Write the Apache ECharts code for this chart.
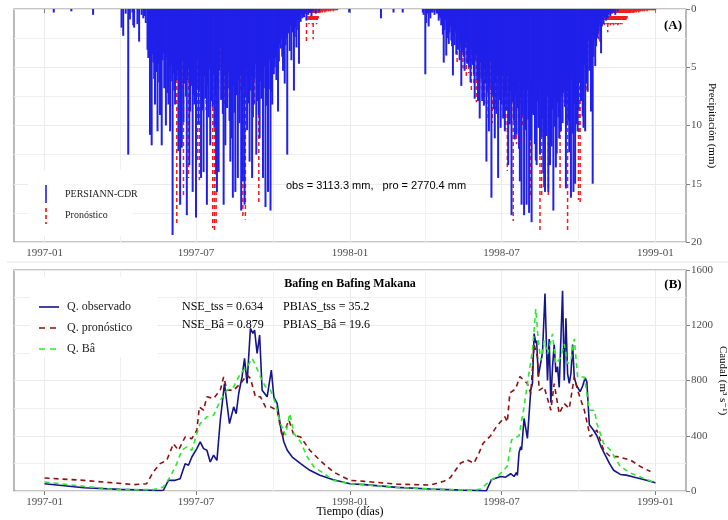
<!DOCTYPE html>
<html>
<head>
<meta charset="utf-8">
<script src="https://cdn.jsdelivr.net/npm/echarts@6/dist/echarts.min.js"></script>
<style>
  html, body { margin: 0; padding: 0; background: #fff; }
  #chart { width: 728px; height: 520px; }
</style>
</head>
<body>
<div id="chart"></div>
<script>
// ---- precipitation (mm/day), daily values from a start date ----
const obsDry = [['1997-01-12', 0.3], ['1997-02-02', 0.2], ['1997-02-28', 0.5], ['1997-12-31', 0.3],
  ['1998-02-07', 0.8], ['1998-02-22', 0.3], ['1998-03-05', 0.3]];

const obs97Start = '1997-04-01';
const obs97 = [
  0, 0, 1.6, 0, 2.3, 0, 0, 0.4, 0, 0,
  12.5, 0, 0.9, 0, 0, 0.3, 1.4, 1.6, 0, 0,
  0, 1.3, 0, 2.8, 0, 0, 0.5, 0, 0.8, 0,
  0.6, 1.2, 0, 3.5, 4.2, 2.8, 10.8, 5.1, 11.7, 3.9,
  4.6, 6.0, 8.2, 3.1, 5.4, 10.5, 4.7, 6.3, 9.1, 5.2,
  11.7, 4.4, 3.8, 6.8, 5.9, 10.0, 4.1, 7.2, 8.2, 5.0,
  10.5, 6.2, 4.8, 19.4, 5.5, 7.0, 8.2, 4.6, 6.1, 5.3,
  12.2, 6.9, 16.8, 5.2, 11.9, 4.5, 9.7, 6.4, 5.8, 7.5,
  17.7, 6.1, 5.0, 13.4, 8.8, 4.9, 6.6, 15.7, 7.3, 8.2,
  5.6, 17.9, 6.8, 4.2, 9.9, 7.1, 5.4, 14.5, 6.0, 8.7,
  14.0, 5.8, 7.7, 4.9, 16.8, 6.5, 9.3, 5.1, 11.7, 7.9,
  6.3, 8.4, 5.6, 10.2, 7.4, 14.2, 15.7, 6.8, 14.0, 5.3,
  3.1, 7.8, 6.2, 9.0, 16.8, 5.7, 11.7, 4.8, 8.5, 6.8,
  5.4, 9.6, 13.1, 11.1, 7.2, 16.2, 6.6, 8.9, 15.7, 5.9,
  7.4, 14.5, 6.1, 9.8, 5.5, 17.3, 8.0, 14.8, 6.7, 16.8,
  7.6, 5.2, 10.4, 6.3, 8.1, 13.1, 7.0, 5.8, 14.5, 9.3,
  8.2, 6.0, 4.7, 12.5, 7.9, 5.4, 9.1, 11.1, 6.2, 7.7,
  5.1, 14.5, 6.8, 4.9, 17.0, 8.3, 5.6, 15.7, 6.9, 4.4,
  17.3, 7.1, 8.2, 3.9, 5.6, 5.0, 4.2, 6.1, 3.3, 8.8,
  4.5, 3.0, 3.4, 2.6, 4.1, 5.3, 2.2, 6.4, 3.1, 2.5,
  12.5, 1.8, 2.1, 3.6, 1.4, 4.4, 2.0, 1.2, 7.0, 2.4,
  1.6, 3.3, 0.9, 1.8, 4.7, 0.6, 1.1, 0.5, 0.8, 0.3,
  0.7, 0, 0.4, 1.0, 0, 0.5, 0, 0.3, 0, 0.6,
  0, 0.2, 0, 0, 0.4, 0, 0, 0, 0.2, 0
];

const obs98Start = '1998-03-25';
const obs98 = [
  0, 0, 0, 0, 0.3, 0.5, 0, 5.6, 1.2, 0.4,
  0, 1.5, 0, 0.8, 0, 0.3, 0, 0, 0.5, 0,
  0, 0.4, 0, 1.0, 0.6, 0.8, 1.4, 0.9, 2.2, 4.6,
  1.8, 0.9, 4.0, 2.5, 1.6, 3.0, 2.0, 1.3, 2.7, 3.2,
  5.7, 2.4, 3.1, 1.9, 3.9, 2.8, 3.5, 2.2, 4.4, 3.0,
  6.6, 3.7, 2.5, 4.1, 5.3, 3.3, 2.9, 4.7, 3.6, 5.0,
  4.2, 6.3, 3.5, 4.8, 3.9, 5.6, 7.7, 4.4, 3.8, 6.1,
  7.9, 5.2, 9.4, 4.6, 6.0, 7.9, 5.5, 8.3, 4.9, 6.4,
  13.1, 5.8, 7.2, 10.5, 6.7, 4.5, 16.2, 7.4, 5.9, 8.6,
  11.1, 6.3, 9.0, 5.4, 14.5, 7.8, 6.1, 10.2, 8.2, 5.7,
  9.4, 6.9, 10.5, 7.5, 8.7, 5.8, 13.4, 6.6, 9.9, 7.1,
  17.7, 8.0, 6.4, 9.6, 11.2, 7.3, 10.8, 8.5, 6.2, 12.0,
  14.8, 7.6, 16.8, 9.1, 6.8, 17.7, 8.3, 10.4, 16.8, 7.0,
  9.5, 17.5, 6.2, 11.3, 18.3, 8.9, 9.1, 7.4, 11.6, 13.0,
  13.4, 7.9, 10.2, 8.8, 12.5, 6.5, 11.0, 9.4, 14.1, 15.3,
  15.7, 8.2, 10.9, 7.5, 15.7, 9.8, 13.4, 6.9, 11.8, 8.6,
  17.3, 7.7, 10.1, 13.6, 12.4, 8.0, 9.3, 11.1, 6.8, 10.5,
  7.5, 9.8, 7.2, 6.6, 8.4, 15.4, 10.0, 7.1, 9.6, 12.3,
  8.9, 16.2, 6.0, 10.7, 15.7, 8.2, 15.0, 7.4, 9.9, 10.5,
  8.6, 6.3, 3.4, 7.9, 5.5, 9.2, 10.2, 4.8, 10.5, 6.4,
  3.9, 7.1, 2.7, 5.3, 4.6, 8.8, 3.5, 15.0, 4.1, 2.6,
  4.9, 3.2, 1.8, 2.5, 1.9, 1.2, 2.8, 3.8, 1.5, 0.9,
  1.3, 0.7, 0.6, 1.0, 0.4, 0.8, 0.5, 0.3, 0.6, 0.2,
  0.4, 0, 0.3, 0, 0.5, 0, 0, 0.2, 0, 0
];

const fc97Start = '1997-06-01';
const fc97 = [
  0.5, 1.2, 0.8, 2.0, 1.5, 0.9, 3.2, 18.4, 2.6, 4.1,
  1.8, 5.5, 3.0, 2.2, 6.8, 16.2, 3.6, 2.4, 7.5, 4.0,
  2.9, 14.5, 5.2, 8.1, 3.3, 6.0, 2.7, 4.8, 7.9, 3.1,
  5.6, 2.4, 13.0, 8.4, 14.7, 3.8, 6.2, 2.9, 5.1, 7.3,
  3.5, 4.4, 8.7, 2.6, 6.5, 3.9, 5.3, 2.1, 7.8, 4.6,
  18.8, 3.2, 19.0, 5.7, 18.5, 4.1, 2.8, 6.9, 3.4, 5.0,
  2.5, 7.1, 4.3, 3.0, 8.4, 5.8, 2.7, 6.3, 3.6, 4.9,
  7.7, 2.3, 5.4, 3.8, 6.6, 4.2, 8.9, 3.1, 5.7, 2.6,
  4.4, 6.0, 3.3, 7.2, 5.1, 2.8, 17.9, 6.4, 15.6, 18.1,
  3.7, 5.9, 2.4, 7.0, 4.5, 3.2, 6.1, 2.9, 5.4, 3.6,
  8.1, 2.7, 4.9, 3.5, 6.6, 16.7, 3.0, 5.2, 2.4, 4.3,
  7.4, 3.1, 2.2, 5.0, 3.8, 2.6, 6.0, 1.9, 4.2, 2.8,
  3.5, 1.7, 5.3, 2.4, 3.1, 1.5, 4.0, 2.2, 1.8, 3.0,
  1.4, 2.6, 1.2, 3.4, 2.0, 1.1, 2.7, 1.6, 0.9, 2.3,
  1.3, 0.8, 1.9, 1.0, 0.6, 1.5, 0.9, 0.5, 1.2, 0.7,
  0.4, 1.0, 0.6, 0.3, 0.8, 0.5, 0.4, 0.7, 0.3, 0.5,
  0.4, 0.6, 2.8, 0.3, 1.1, 1.3, 0.9, 1.2, 1.0, 1.3,
  2.6, 1.1, 1.2, 0.9, 1.3, 1.0, 0.8, 0.6, 0.4, 0.3,
  0.2, 0.3, 0.2, 0.2, 0.3, 0.2, 0.2, 0.1, 0.2, 0.2,
  0.1, 0.2, 0.1, 0.1, 0.2, 0.1, 0.1, 0.1, 0.1, 0.1
];

const fc98Start = '1998-04-01';
const fc98 = [
  0.2, 0.1, 0.3, 0.2, 0.1, 0.3, 0.2, 0.2, 0.1, 0.3,
  0.2, 0.3, 0.1, 0.2, 0.3, 0.2, 0.4, 0.2, 0.3, 0.1,
  0.3, 0.5, 0.2, 0.4, 0.3, 1.1, 0.4, 0.6, 2.2, 0.8,
  1.5, 0.7, 2.8, 1.2, 0.9, 3.0, 1.4, 2.1, 4.8, 1.6,
  2.5, 3.6, 1.3, 4.3, 2.0, 5.1, 1.8, 3.3, 2.6, 6.0,
  2.2, 3.9, 5.5, 1.9, 4.6, 7.0, 2.8, 3.5, 6.4, 2.3,
  4.1, 8.0, 3.0, 5.2, 2.6, 6.8, 4.4, 3.1, 7.6, 5.0,
  2.9, 8.4, 4.0, 6.2, 3.4, 9.6, 5.4, 2.7, 7.3, 4.7,
  9.8, 3.6, 6.1, 5.0, 8.6, 3.2, 7.0, 10.1, 4.2, 5.7,
  9.3, 3.8, 6.6, 8.0, 4.5, 7.2, 10.3, 5.3, 13.9, 6.1,
  4.0, 8.5, 5.6, 7.4, 3.9, 18.2, 6.8, 9.0, 4.9, 11.6,
  7.1, 5.5, 9.4, 3.8, 8.2, 6.0, 10.0, 4.4, 7.7, 5.2,
  9.1, 6.3, 3.9, 8.0, 4.7, 7.4, 16.1, 5.0, 3.6, 8.8,
  6.2, 4.3, 9.5, 5.1, 7.0, 3.4, 6.8, 19.1, 5.5, 16.1,
  4.0, 8.3, 6.0, 3.5, 7.6, 5.0, 4.2, 16.0, 6.5, 3.8,
  9.0, 5.4, 7.3, 3.6, 6.6, 4.8, 8.1, 3.2, 5.9, 4.1,
  7.2, 15.6, 5.3, 3.7, 6.4, 4.5, 8.0, 3.1, 5.6, 4.0,
  19.1, 5.0, 3.4, 7.1, 4.6, 6.0, 3.3, 5.4, 8.2, 4.2,
  6.5, 3.0, 5.1, 16.4, 10.9, 16.6, 4.0, 6.2, 3.1, 5.5,
  2.8, 4.4, 7.0, 2.5, 3.7, 2.1, 5.2, 1.9, 3.0, 2.4,
  1.6, 2.9, 1.4, 2.2, 1.1, 1.8, 1.3, 2.6, 0.9, 1.5,
  1.2, 1.0, 1.3, 1.2, 1.4, 1.1, 1.3, 1.2, 2.0, 1.3,
  1.2, 1.4, 1.3, 1.2, 1.3, 1.4, 1.2, 1.3, 1.3, 1.2,
  1.4, 1.3, 1.2, 1.3, 1.2, 1.3, 1.1, 1.2, 1.0, 1.1,
  0.9, 0.8, 0.6, 0.5, 0.4, 0.4, 0.3, 0.3, 0.4, 0.3,
  0.3, 0.2, 0.3, 0.2, 0.2, 0.3, 0.2, 0.2, 0.1, 0.2,
  0.2, 0.1, 0.2, 0.1, 0.1, 0.2, 0.1, 0.1, 0.1, 0.1,
  0.1, 0.1, 0.1, 0.1, 0.1, 0.1
];

// ---- discharge (m3/s) ----
const qObs = [
  ['1997-01-01', 53], ['1997-02-17', 24], ['1997-04-01', 12], ['1997-05-19', 4], ['1997-05-23', 5],
  ['1997-05-29', 77], ['1997-05-31', 89], ['1997-06-06', 77], ['1997-06-12', 89], ['1997-06-18', 198],
  ['1997-06-22', 186], ['1997-06-26', 246], ['1997-07-02', 307], ['1997-07-06', 355], ['1997-07-10', 307],
  ['1997-07-14', 295], ['1997-07-18', 210], ['1997-07-22', 259], ['1997-07-26', 222], ['1997-07-30', 512],
  ['1997-08-04', 778], ['1997-08-07', 633], ['1997-08-10', 488], ['1997-08-15', 609], ['1997-08-18', 560],
  ['1997-08-21', 706], ['1997-08-25', 826], ['1997-08-28', 960], ['1997-08-31', 778], ['1997-09-04', 1177],
  ['1997-09-07', 1141], ['1997-09-09', 1165], ['1997-09-12', 996], ['1997-09-15', 1129], ['1997-09-18', 730],
  ['1997-09-24', 682], ['1997-09-29', 875], ['1997-10-02', 682], ['1997-10-06', 633], ['1997-10-10', 464],
  ['1997-10-14', 355], ['1997-10-18', 295], ['1997-10-24', 246], ['1997-11-03', 198], ['1997-11-14', 150],
  ['1997-11-26', 114], ['1997-12-12', 82], ['1998-01-01', 53], ['1998-01-18', 46], ['1998-02-26', 26],
  ['1998-04-07', 15], ['1998-05-16', 6], ['1998-06-13', 2], ['1998-06-19', 82], ['1998-06-21', 82],
  ['1998-06-30', 105], ['1998-07-06', 100], ['1998-07-12', 125], ['1998-07-16', 105], ['1998-07-19', 134],
  ['1998-07-20', 113], ['1998-07-22', 278], ['1998-07-24', 321], ['1998-07-25', 297], ['1998-07-28', 525],
  ['1998-08-01', 381], ['1998-08-05', 729], ['1998-08-07', 777], ['1998-08-09', 1140], ['1998-08-11', 1070],
  ['1998-08-12', 1090], ['1998-08-14', 830], ['1998-08-16', 840], ['1998-08-19', 1000], ['1998-08-22', 1430],
  ['1998-08-24', 1000], ['1998-08-25', 800], ['1998-08-27', 1100], ['1998-08-29', 640], ['1998-08-31', 900],
  ['1998-09-02', 1060], ['1998-09-04', 860], ['1998-09-06', 900], ['1998-09-08', 750], ['1998-09-12', 1450],
  ['1998-09-14', 800], ['1998-09-16', 1250], ['1998-09-18', 850], ['1998-09-20', 780], ['1998-09-22', 850],
  ['1998-09-24', 1060], ['1998-09-26', 820], ['1998-09-29', 760], ['1998-10-03', 720], ['1998-10-06', 760],
  ['1998-10-09', 820], ['1998-10-11', 790], ['1998-10-14', 480], ['1998-10-19', 440], ['1998-10-23', 400],
  ['1998-10-28', 320], ['1998-11-02', 260], ['1998-11-07', 200], ['1998-11-12', 150], ['1998-11-20', 120],
  ['1998-11-27', 115], ['1998-12-07', 100], ['1998-12-20', 80], ['1999-01-01', 60]
];

const qFc = [
  ['1997-01-01', 94], ['1997-02-17', 77], ['1997-04-18', 46], ['1997-05-03', 53], ['1997-05-11', 138],
  ['1997-05-19', 198], ['1997-05-27', 222], ['1997-06-04', 343], ['1997-06-10', 295], ['1997-06-18', 391],
  ['1997-06-26', 379], ['1997-07-02', 440], ['1997-07-05', 609], ['1997-07-10', 585], ['1997-07-14', 682],
  ['1997-07-22', 670], ['1997-07-30', 730], ['1997-08-03', 826], ['1997-08-07', 730], ['1997-08-15', 730],
  ['1997-08-23', 778], ['1997-08-31', 839], ['1997-09-04', 815], ['1997-09-10', 682], ['1997-09-16', 682],
  ['1997-09-22', 609], ['1997-09-28', 609], ['1997-10-06', 585], ['1997-10-12', 391], ['1997-10-20', 512],
  ['1997-10-26', 404], ['1997-11-03', 391], ['1997-11-14', 295], ['1997-11-26', 222], ['1997-12-12', 138],
  ['1998-01-01', 77], ['1998-01-18', 70], ['1998-02-26', 50], ['1998-04-07', 43], ['1998-04-23', 70],
  ['1998-05-01', 98], ['1998-05-13', 201], ['1998-05-21', 225], ['1998-05-29', 201], ['1998-06-04', 273],
  ['1998-06-09', 345], ['1998-06-18', 400], ['1998-06-25', 466], ['1998-07-05', 538], ['1998-07-08', 500],
  ['1998-07-11', 709], ['1998-07-18', 740], ['1998-07-23', 828], ['1998-07-28', 801], ['1998-08-01', 777],
  ['1998-08-05', 705], ['1998-08-09', 1060], ['1998-08-13', 969], ['1998-08-15', 729], ['1998-08-21', 753],
  ['1998-08-29', 585], ['1998-09-02', 777], ['1998-09-08', 561], ['1998-09-14', 633], ['1998-09-20', 597],
  ['1998-09-26', 825], ['1998-09-30', 729], ['1998-10-08', 585], ['1998-10-15', 393], ['1998-10-23', 441],
  ['1998-10-31', 297], ['1998-11-08', 249], ['1998-11-16', 249], ['1998-12-02', 225], ['1998-12-14', 177],
  ['1998-12-26', 141]
];

const qBa = [
  ['1997-01-01', 65], ['1997-02-17', 34], ['1997-03-28', 10], ['1997-05-11', 10], ['1997-05-23', 29],
  ['1997-05-31', 101], ['1997-06-08', 198], ['1997-06-14', 295], ['1997-06-20', 319], ['1997-06-26', 295],
  ['1997-07-02', 416], ['1997-07-06', 488], ['1997-07-14', 537], ['1997-07-22', 549], ['1997-07-30', 657],
  ['1997-08-07', 730], ['1997-08-15', 754], ['1997-08-23', 851], ['1997-08-31', 899], ['1997-09-06', 960],
  ['1997-09-10', 911], ['1997-09-16', 826], ['1997-09-22', 754], ['1997-09-28', 730], ['1997-10-04', 633],
  ['1997-10-10', 488], ['1997-10-16', 404], ['1997-10-21', 561], ['1997-10-26', 416], ['1997-11-03', 355],
  ['1997-11-11', 246], ['1997-11-19', 174], ['1997-12-01', 126], ['1997-12-12', 77], ['1998-01-01', 53],
  ['1998-01-18', 46], ['1998-02-26', 26], ['1998-04-07', 14], ['1998-05-29', 5], ['1998-06-06', 14],
  ['1998-06-19', 82], ['1998-06-26', 105], ['1998-07-04', 152], ['1998-07-08', 181], ['1998-07-13', 369],
  ['1998-07-22', 400], ['1998-07-28', 609], ['1998-08-03', 862], ['1998-08-07', 1017], ['1998-08-11', 1317],
  ['1998-08-14', 1089], ['1998-08-17', 945], ['1998-08-21', 1089], ['1998-08-25', 993], ['1998-08-31', 1137],
  ['1998-09-04', 921], ['1998-09-10', 969], ['1998-09-14', 1065], ['1998-09-18', 921], ['1998-09-22', 945],
  ['1998-09-26', 1101], ['1998-09-30', 825], ['1998-10-08', 825], ['1998-10-14', 585], ['1998-10-20', 585],
  ['1998-10-23', 489], ['1998-10-31', 345], ['1998-11-08', 297], ['1998-11-20', 177], ['1998-12-02', 130],
  ['1998-12-22', 82], ['1999-01-01', 58]
];

// ---- axes ----
const majorDates = ['1997-01-01', '1997-07-01', '1998-01-01', '1998-07-01', '1999-01-01'];
const minorDates = ['1997-04-01', '1997-10-01', '1998-04-01', '1998-10-01'];

const DAY = 86400000;
const xMin = Date.parse('1997-01-01') - 36.5 * DAY;
const xMax = Date.parse('1999-01-01') + 36.5 * DAY;

const majors = majorDates.map(Date.parse);
const minors = minorDates.map(Date.parse);

function daily(start, values) {
  const t0 = Date.parse(start);
  return values.map((v, i) => [t0 + i * DAY, v]).filter(d => d[1] > 0);
}
function parsePairs(arr) {
  return arr.map(d => [Date.parse(d[0]), d[1]]);
}

const obsBars = parsePairs(obsDry).concat(daily(obs97Start, obs97), daily(obs98Start, obs98));
const fcBars = daily(fc97Start, fc97).concat(daily(fc98Start, fc98));

const SERIF = "'Liberation Serif', 'DejaVu Serif', serif";
const GRID = '#ebebeb';
const AXIS = '#7f7f7f';

function ym(v) {
  const d = new Date(v);
  return d.getUTCFullYear() + '-' + String(d.getUTCMonth() + 1).padStart(2, '0');
}

// x axes are plain value axes holding timestamps; ticks come from the date lists
function xMajor(gridIndex) {
  return {
    type: 'value', gridIndex: gridIndex, min: xMin, max: xMax,
    axisLine: { show: false },
    axisTick: { show: true, customValues: majors, length: 4, lineStyle: { color: AXIS, width: 1 } },
    axisLabel: { customValues: majors, formatter: ym, margin: 6, color: '#4d4d4d', fontFamily: SERIF, fontSize: 11 },
    splitLine: { show: true, lineStyle: { color: GRID, width: 1 } }
  };
}
function xMinor(gridIndex) {
  return {
    type: 'value', gridIndex: gridIndex, min: xMin, max: xMax, position: 'top',
    axisLine: { show: false },
    axisTick: { show: false, customValues: minors },
    axisLabel: { show: false, customValues: minors },
    splitLine: { show: true, lineStyle: { color: '#f0f0f0', width: 1 } }
  };
}

function barRenderer(color, width, dash) {
  return function (params, api) {
    const p0 = api.coord([api.value(0), 0]);
    const p1 = api.coord([api.value(0), api.value(1)]);
    return {
      type: 'line',
      shape: { x1: p0[0], y1: p0[1], x2: p1[0], y2: p1[1] },
      style: { stroke: color, lineWidth: width, lineDash: dash || null }
    };
  };
}

const chart = echarts.init(document.getElementById('chart'));
chart.setOption({
  animation: false,
  backgroundColor: '#fff',
  grid: [
    { left: 14, top: 9, width: 672, height: 233, show: true, borderColor: '#8c8c8c', borderWidth: 1.2,
      backgroundColor: '#fff', outerBoundsMode: 'none', containLabel: false },
    { left: 14, top: 270, width: 672, height: 221, show: true, borderColor: '#8c8c8c', borderWidth: 1.2,
      backgroundColor: '#fff', outerBoundsMode: 'none', containLabel: false }
  ],
  xAxis: [xMajor(0), xMinor(0), xMajor(1), xMinor(1)],
  yAxis: [
    {
      type: 'value', gridIndex: 0, position: 'right', inverse: true, min: 0, max: 20, interval: 5,
      name: 'Precipitación (mm)', nameLocation: 'middle', nameRotate: -90, nameGap: 20, nameMoveOverlap: false,
      nameTextStyle: { fontFamily: SERIF, fontSize: 11, color: '#000' },
      axisLine: { show: false },
      axisTick: { show: true, length: 4, lineStyle: { color: AXIS } },
      axisLabel: { margin: 5, color: '#4d4d4d', fontFamily: SERIF, fontSize: 11 },
      splitLine: { lineStyle: { color: GRID, width: 1 } },
      minorTick: { show: false, splitNumber: 2 },
      minorSplitLine: { show: true, lineStyle: { color: '#f0f0f0', width: 1 } }
    },
    {
      type: 'value', gridIndex: 1, position: 'right', min: 0, max: 1600, interval: 400,
      name: 'Caudal (m³ s⁻¹)', nameLocation: 'middle', nameRotate: -90, nameGap: 31, nameMoveOverlap: false,
      nameTextStyle: { fontFamily: SERIF, fontSize: 11, color: '#000' },
      axisLine: { show: false },
      axisTick: { show: true, length: 4, lineStyle: { color: AXIS } },
      axisLabel: { margin: 5, color: '#4d4d4d', fontFamily: SERIF, fontSize: 11, formatter: v => String(v) },
      splitLine: { lineStyle: { color: GRID, width: 1 } },
      minorTick: { show: false, splitNumber: 2 },
      minorSplitLine: { show: true, lineStyle: { color: '#f0f0f0', width: 1 } }
    }
  ],
  series: [
    {
      name: 'Pronóstico', type: 'custom', xAxisIndex: 0, yAxisIndex: 0, z: 2,
      encode: { x: 0, y: 1 }, data: fcBars, renderItem: barRenderer('#f21c1c', 1.5, [4, 3])
    },
    {
      name: 'PERSIANN-CDR', type: 'custom', xAxisIndex: 0, yAxisIndex: 0, z: 3,
      encode: { x: 0, y: 1 }, data: obsBars, renderItem: barRenderer('#2020ea', 2.0, null)
    },
    {
      name: 'Q. observado', type: 'line', xAxisIndex: 2, yAxisIndex: 1, z: 2,
      data: parsePairs(qObs), symbol: 'none',
      lineStyle: { color: '#14148c', width: 1.6 }
    },
    {
      name: 'Q. pronóstico', type: 'line', xAxisIndex: 2, yAxisIndex: 1, z: 3,
      data: parsePairs(qFc), symbol: 'none',
      lineStyle: { color: '#8b1212', width: 1.6, type: [5, 4] }
    },
    {
      name: 'Q. Bâ', type: 'line', xAxisIndex: 2, yAxisIndex: 1, z: 4,
      data: parsePairs(qBa), symbol: 'none',
      lineStyle: { color: '#2ee82e', width: 1.6, type: [5, 4] }
    }
  ],
  graphic: [
    // separator between panels
    { type: 'line', shape: { x1: 7, y1: 262, x2: 728, y2: 262 }, style: { stroke: '#e6e6e6', lineWidth: 1 } },
    // top legend
    { type: 'rect', shape: { x: 28, y: 170, width: 105, height: 66 }, style: { fill: '#fff' }, z: 50 },
    { type: 'line', shape: { x1: 46, y1: 185, x2: 46, y2: 203 }, style: { stroke: '#2020ea', lineWidth: 1.6 }, z: 51 },
    { type: 'line', shape: { x1: 46, y1: 208, x2: 46, y2: 224 }, style: { stroke: '#f21c1c', lineWidth: 1.7, lineDash: [4, 3] }, z: 51 },
    { type: 'text', x: 65, y: 194, style: { text: 'PERSIANN-CDR', font: '10px ' + SERIF, fill: '#222', verticalAlign: 'middle' }, z: 51 },
    { type: 'text', x: 65, y: 215, style: { text: 'Pronóstico', font: '10px ' + SERIF, fill: '#222', verticalAlign: 'middle' }, z: 51 },
    { type: 'text', x: 376, y: 186, style: { text: 'obs = 3113.3 mm,   pro = 2770.4 mm', font: "11px 'Liberation Sans', Arial, sans-serif", fill: '#000', align: 'center', verticalAlign: 'middle' }, z: 51 },
    { type: 'text', x: 673, y: 26, style: { text: '(A)', font: 'bold 13px ' + SERIF, fill: '#000', align: 'center', verticalAlign: 'middle' }, z: 51 },
    // bottom legend
    { type: 'rect', shape: { x: 30, y: 277, width: 127, height: 80 }, style: { fill: '#fff' }, z: 50 },
    { type: 'line', shape: { x1: 39, y1: 307, x2: 59, y2: 307 }, style: { stroke: '#14148c', lineWidth: 1.6 }, z: 51 },
    { type: 'line', shape: { x1: 39, y1: 328, x2: 59, y2: 328 }, style: { stroke: '#8b1212', lineWidth: 1.6, lineDash: [6, 5] }, z: 51 },
    { type: 'line', shape: { x1: 39, y1: 349, x2: 59, y2: 349 }, style: { stroke: '#2ee82e', lineWidth: 1.6, lineDash: [6, 5] }, z: 51 },
    { type: 'text', x: 67, y: 307, style: { text: 'Q. observado', font: '12px ' + SERIF, fill: '#222', verticalAlign: 'middle' }, z: 51 },
    { type: 'text', x: 67, y: 328, style: { text: 'Q. pronóstico', font: '12px ' + SERIF, fill: '#222', verticalAlign: 'middle' }, z: 51 },
    { type: 'text', x: 67, y: 349, style: { text: 'Q. Bâ', font: '12px ' + SERIF, fill: '#222', verticalAlign: 'middle' }, z: 51 },
    { type: 'text', x: 350, y: 284, style: { text: 'Bafing en Bafing Makana', font: 'bold 12px ' + SERIF, fill: '#000', align: 'center', verticalAlign: 'middle' }, z: 51 },
    { type: 'text', x: 182, y: 307, style: { text: 'NSE_tss = 0.634', font: '12px ' + SERIF, fill: '#000', verticalAlign: 'middle' }, z: 51 },
    { type: 'text', x: 182, y: 325, style: { text: 'NSE_Bâ = 0.879', font: '12px ' + SERIF, fill: '#000', verticalAlign: 'middle' }, z: 51 },
    { type: 'text', x: 283, y: 307, style: { text: 'PBIAS_tss = 35.2', font: '12px ' + SERIF, fill: '#000', verticalAlign: 'middle' }, z: 51 },
    { type: 'text', x: 283, y: 325, style: { text: 'PBIAS_Bâ = 19.6', font: '12px ' + SERIF, fill: '#000', verticalAlign: 'middle' }, z: 51 },
    { type: 'text', x: 673, y: 285, style: { text: '(B)', font: 'bold 13px ' + SERIF, fill: '#000', align: 'center', verticalAlign: 'middle' }, z: 51 },
    { type: 'text', x: 350, y: 512, style: { text: 'Tiempo (días)', font: '12px ' + SERIF, fill: '#000', align: 'center', verticalAlign: 'middle' }, z: 51 }
  ]
});
</script>
</body>
</html>
